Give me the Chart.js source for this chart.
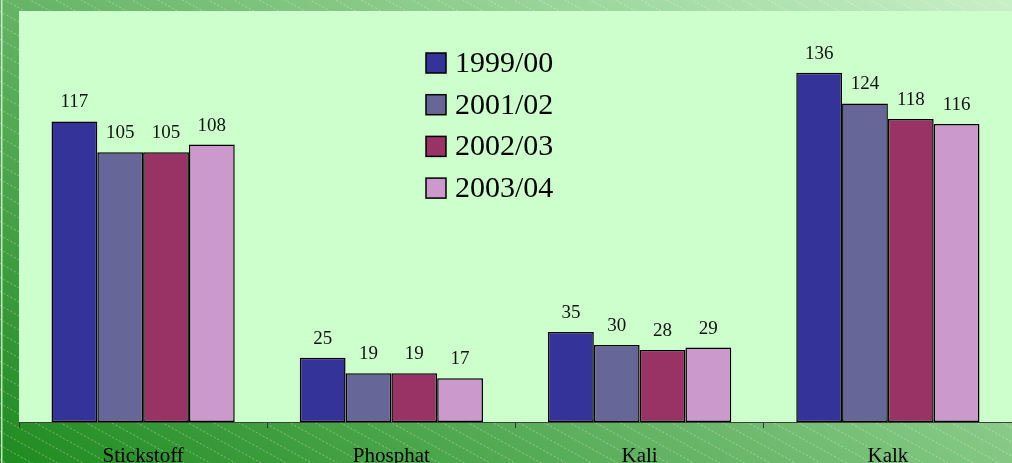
<!DOCTYPE html>
<html><head><meta charset="utf-8">
<script src="https://cdn.jsdelivr.net/npm/chart.js@4"></script>
<style>html,body{margin:0;padding:0;overflow:hidden;background:#fff}</style>
</head><body>
<canvas id="c" width="1012" height="463" style="display:block;width:1012px;height:463px"></canvas>
<script>
const categories = ['Stickstoff', 'Phosphat', 'Kali', 'Kalk'];
const seriesLabels = ['1999/00', '2001/02', '2002/03', '2003/04'];
const values1999 = [117, 25, 35, 136];
const values2001 = [105, 19, 30, 124];
const values2002 = [105, 19, 28, 118];
const values2003 = [108, 17, 29, 116];
const seriesColors = ['#333399', '#666699', '#993366', '#cc99cc'];
const yMax = 160;

const serif = "'Liberation Serif', 'Times New Roman', serif";

const bgPlugin = {
  id: 'bg',
  beforeDraw(chart) {
    const ctx = chart.ctx, W = chart.width, H = chart.height;
    ctx.save();
    const g = ctx.createLinearGradient(0, H, 528, H - 787);
    g.addColorStop(0, '#1f8b1f');
    g.addColorStop(1, '#c8f0c8');
    ctx.fillStyle = g;
    ctx.fillRect(0, 0, W, H);
    // diagonal dotted stripes
    ctx.strokeStyle = 'rgba(255,255,255,0.35)';
    ctx.lineWidth = 1;
    ctx.setLineDash([2, 2]);
    const slope = 0.55;
    for (let y0 = -W * slope - 20; y0 < H + 20; y0 += 14) {
      ctx.beginPath();
      ctx.moveTo(0, y0);
      ctx.lineTo(W, y0 + W * slope);
      ctx.stroke();
    }
    ctx.setLineDash([]);
    ctx.fillStyle = 'rgba(225,240,225,0.85)';
    ctx.fillRect(1, 0, 1.5, H);
    const a = chart.chartArea;
    ctx.fillStyle = '#ccffcc';
    ctx.fillRect(a.left, a.top, a.right - a.left, a.bottom - a.top);
    ctx.restore();
  }
};

const valueLabels = {
  id: 'valueLabels',
  afterDatasetsDraw(chart) {
    const ctx = chart.ctx;
    ctx.save();
    ctx.font = '19px ' + serif;
    ctx.fillStyle = '#111';
    ctx.textAlign = 'center';
    ctx.textBaseline = 'alphabetic';
    chart.data.datasets.forEach((ds, i) => {
      chart.getDatasetMeta(i).data.forEach((bar, j) => {
        ctx.fillText(String(ds.data[j]), bar.x, bar.y - 14);
      });
    });
    ctx.restore();
  }
};

const customLegend = {
  id: 'customLegend',
  afterDraw(chart) {
    const ctx = chart.ctx;
    ctx.save();
    ctx.font = '30px ' + serif;
    ctx.textBaseline = 'middle';
    ctx.textAlign = 'left';
    chart.data.datasets.forEach((ds, i) => {
      const cy = 63 + i * 41.7;
      ctx.fillStyle = ds.backgroundColor;
      ctx.fillRect(426, cy - 10, 20, 20);
      ctx.strokeStyle = '#000';
      ctx.lineWidth = 1.5;
      ctx.strokeRect(426, cy - 10, 20, 20);
      ctx.fillStyle = '#000';
      ctx.fillText(ds.label, 455, cy + 1);
    });
    ctx.restore();
  }
};

const series = [values1999, values2001, values2002, values2003];
new Chart(document.getElementById('c'), {
  type: 'bar',
  data: {
    labels: categories,
    datasets: series.map((vals, i) => ({
      label: seriesLabels[i],
      data: vals,
      backgroundColor: seriesColors[i],
      borderColor: '#000',
      borderWidth: 1.5,
      borderSkipped: false,
      categoryPercentage: 0.738,
      barPercentage: 1.0
    }))
  },
  options: {
    responsive: false,
    animation: false,
    devicePixelRatio: 1,
    layout: { padding: { left: 19, top: 11, right: 0, bottom: 0 } },
    plugins: { legend: { display: false }, tooltip: { enabled: false } },
    scales: {
      x: {
        offset: true,
        grid: { offset: true, drawOnChartArea: false, drawTicks: true, tickLength: 6, color: '#333', lineWidth: 1 },
        border: { display: true, color: '#404040', width: 1 },
        ticks: { font: { family: serif, size: 21 }, color: '#000', padding: 16, maxRotation: 0 },
        afterFit(s) { s.height = 41; }
      },
      y: { display: false, min: 0, max: yMax }
    }
  },
  plugins: [bgPlugin, valueLabels, customLegend]
});
</script>
</body></html>
